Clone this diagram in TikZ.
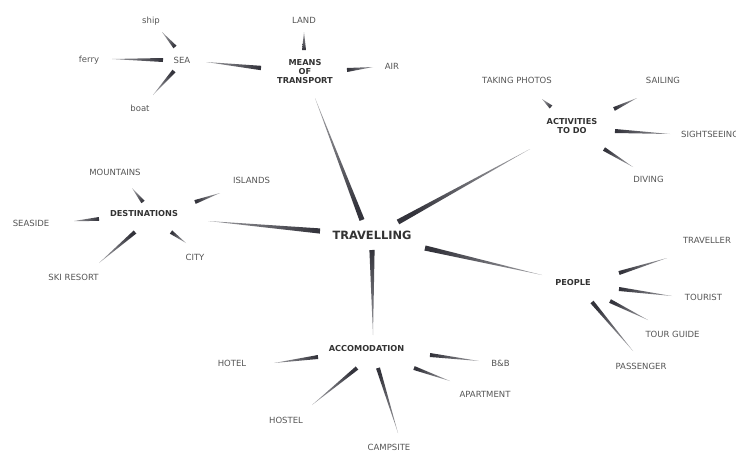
\documentclass[tikz,border=0pt]{standalone}
\usepackage{fontspec}
\setmainfont{DejaVu Sans}
\usetikzlibrary{calc}
\definecolor{wedgecol}{HTML}{34343C}
\definecolor{labcol}{HTML}{555555}
\definecolor{headcol}{HTML}{333333}
\tikzset{
  leaf/.style={inner sep=0pt, text=labcol, font=\fontsize{8.5}{10}\selectfont},
  hub/.style={inner sep=0pt, text=headcol, align=center, font=\fontsize{8.2}{9}\selectfont\bfseries},
  root/.style={inner sep=0pt, text=headcol, font=\fontsize{11.4}{13}\selectfont\bfseries},
  wedgefill/.style={left color=wedgecol, right color=wedgecol!50, draw=none},
}
% #1 node at thick end, #2 offset from it, #3 node at thin end, #4 offset from it, #5 half width
\newcommand\wconn[5]{%
  \path ($(#1)+(#2)$) coordinate (w1) ($(#3)+(#4)$) coordinate (w2);
  \path let \p1=($(w2)-(w1)$) in \pgfextra{\pgfmathsetmacro\wang{atan2(\y1,\x1)+90}\xdef\wang{\wang}};
  \shade[wedgefill, shading angle=\wang] ($(w1)!#5!90:(w2)$) -- ($(w1)!#5!-90:(w2)$) -- (w2) -- cycle;
}
\begin{document}
\begin{tikzpicture}[x=1pt,y=-1pt]
\useasboundingbox (0,0) rectangle (736,450);
\fill[white] (0,0) rectangle (736,450);

% nodes
\node[root] (trav) at (372,235) {TRAVELLING};
\node[hub] (means) at (305,72) {MEANS\\OF\\TRANSPORT};
\node[leaf] (sea) at (182,60) {SEA};
\node[leaf] (ship) at (151,21) {ship};
\node[leaf] (ferry) at (89,60) {ferry};
\node[leaf] (boat) at (140,108) {boat};
\node[leaf] (land) at (304,20) {LAND};
\node[leaf] (air) at (392,66) {AIR};
\node[hub] (act) at (572,126) {ACTIVITIES\\TO DO};
\node[leaf] (photos) at (517,80) {TAKING PHOTOS};
\node[leaf] (sailing) at (663,80) {SAILING};
\node[leaf, anchor=west] (sight) at (681,134) {SIGHTSEEING};
\node[leaf] (diving) at (648.5,179) {DIVING};
\node[hub] (dest) at (144,214) {DESTINATIONS};
\node[leaf] (mount) at (115,172) {MOUNTAINS};
\node[leaf] (islands) at (251.5,180) {ISLANDS};
\node[leaf] (seaside) at (31,223) {SEASIDE};
\node[leaf] (city) at (195,257) {CITY};
\node[leaf] (ski) at (73.5,277) {SKI RESORT};
\node[hub] (people) at (573,283) {PEOPLE};
\node[leaf] (traveller) at (707,240) {TRAVELLER};
\node[leaf] (tourist) at (703.5,297) {TOURIST};
\node[leaf] (guide) at (672.5,334) {TOUR GUIDE};
\node[leaf] (passenger) at (641,366) {PASSENGER};
\node[hub] (acc) at (366.5,349) {ACCOMODATION};
\node[leaf] (hotel) at (232,363) {HOTEL};
\node[leaf] (bnb) at (500.5,363) {B\&B};
\node[leaf] (apart) at (485,394) {APARTMENT};
\node[leaf] (hostel) at (286,420) {HOSTEL};
\node[leaf] (camp) at (389,447) {CAMPSITE};

% main branches
\wconn{trav}{-10,-15}{means}{10,26}{2.6pt}
\wconn{trav}{26,-13}{act}{-42,23}{2.6pt}
\wconn{trav}{-52,-4}{dest}{64,7}{2.6pt}
\wconn{trav}{53,13}{people}{-31,-8}{2.6pt}
\wconn{trav}{0,15}{acc}{6.5,-14}{2.6pt}

% means of transport
\wconn{means}{-44,-4}{sea}{24,2}{2.2pt}
\wconn{means}{-1,-22}{land}{0,12}{2pt}
\wconn{means}{42,-2}{air}{-19,1}{2pt}
\wconn{sea}{-7,-13}{ship}{11,11}{2pt}
\wconn{sea}{-19,0}{ferry}{23,-1}{2pt}
\wconn{sea}{-8,11}{boat}{13,-13}{2pt}

% activities
\wconn{act}{-21,-19}{photos}{25,19}{2pt}
\wconn{act}{42,-17}{sailing}{-26,18}{2pt}
\wconn{act}{43,5}{sight.west}{-11,0}{2pt}
\wconn{act}{32,23}{diving}{-15.5,-12}{2pt}

% destinations
\wconn{dest}{-1,-12}{mount}{17,16}{2pt}
\wconn{dest}{51,-12}{islands}{-31.5,13}{2pt}
\wconn{dest}{-45,5}{seaside}{43,-2}{2pt}
\wconn{dest}{-9,18}{ski}{25.5,-14}{2pt}
\wconn{dest}{27,18}{city}{-9,-14}{2pt}

% people
\wconn{people}{46,-10}{traveller}{-40,18}{2pt}
\wconn{people}{46,6}{tourist}{-31.5,-1}{2pt}
\wconn{people}{37,18}{guide}{-24.5,-14}{2pt}
\wconn{people}{19,19}{passenger}{-8,-15}{2pt}

% accommodation
\wconn{acc}{-48.5,8}{hotel}{42,0}{2pt}
\wconn{acc}{63.5,6}{bnb}{-21.5,-2}{2pt}
\wconn{acc}{47.5,19}{apart}{-35,-13}{2pt}
\wconn{acc}{-9.5,19}{hostel}{26,-15}{2pt}
\wconn{acc}{11.5,19}{camp}{9,-14}{2pt}
\end{tikzpicture}
\end{document}
